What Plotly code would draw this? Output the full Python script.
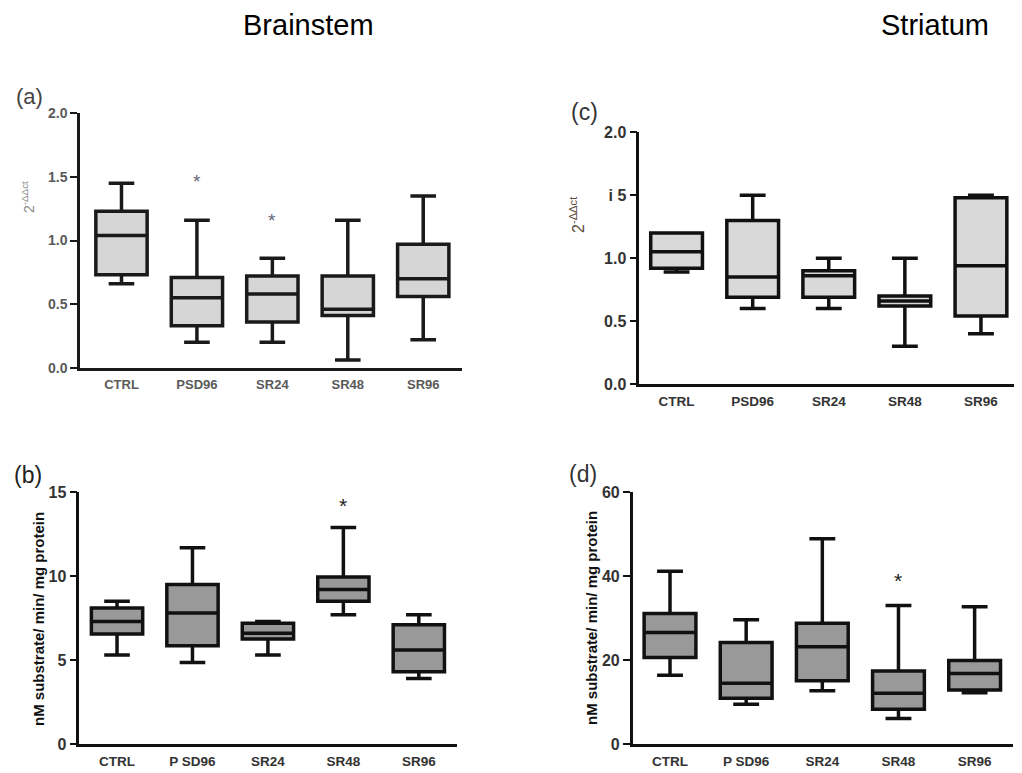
import plotly.graph_objects as go

# ---------------- data ----------------
categories = ["CTRL", "PSD96", "SR24", "SR48", "SR96"]
labels_bd = ["CTRL", "P SD96", "SR24", "SR48", "SR96"]

# (a) Brainstem, 2^-ΔΔct
a_max = [1.45, 1.16, 0.86, 1.16, 1.35]
a_q3 = [1.23, 0.71, 0.72, 0.72, 0.97]
a_med = [1.04, 0.55, 0.58, 0.46, 0.70]
a_q1 = [0.73, 0.33, 0.36, 0.41, 0.56]
a_min = [0.66, 0.20, 0.20, 0.06, 0.22]
a_star_x = ["PSD96", "SR24"]
a_star_y = [1.46, 1.16]

# (b) Brainstem, activity
b_max = [8.5, 11.7, 7.3, 12.9, 7.7]
b_q3 = [8.1, 9.5, 7.2, 9.95, 7.1]
b_med = [7.3, 7.8, 6.6, 9.2, 5.6]
b_q1 = [6.55, 5.85, 6.25, 8.5, 4.3]
b_min = [5.3, 4.85, 5.3, 7.7, 3.9]
b_star_x = ["SR48"]
b_star_y = [14.2]

# (c) Striatum, 2^-ΔΔct
c_max = [1.20, 1.50, 1.00, 1.00, 1.50]
c_q3 = [1.20, 1.30, 0.90, 0.70, 1.48]
c_med = [1.05, 0.85, 0.86, 0.66, 0.94]
c_q1 = [0.92, 0.69, 0.69, 0.62, 0.54]
c_min = [0.89, 0.60, 0.60, 0.30, 0.40]
c_ticks = [0.0, 0.5, 1.0, 1.5, 2.0]
c_ticktext = ["0.0", "0.5", "1.0", "i 5", "2.0"]

# (d) Striatum, activity
d_max = [41.2, 29.6, 48.9, 33.0, 32.7]
d_q3 = [31.1, 24.2, 28.8, 17.4, 19.9]
d_med = [26.6, 14.5, 23.2, 12.1, 16.8]
d_q1 = [20.6, 10.9, 15.1, 8.3, 12.9]
d_min = [16.4, 9.5, 12.7, 6.1, 12.2]
d_star_x = ["SR48"]
d_star_y = [39.0]

# ---------------- layout helpers ----------------
# page body has an 8px margin, so the figure starts at (8, 8) in the window
OFF = 8
W, H = 1022 - OFF, 773 - OFF
FONT = "Liberation Sans, Arial, sans-serif"


def px_x(p):
    return (p - OFF) / W


def px_y(p):
    return 1 - (p - OFF) / H


fig = go.Figure()

panels = [
    dict(ax="x", ay="y", st=(a_min, a_q1, a_med, a_q3, a_max), fill="#d6d6d6",
         xs=(80, 461.7), ys=(113.3, 367.7), xr=[-0.55, 4.51], yr=[0, 2.0],
         star=(a_star_x, a_star_y), starcol="#667", starsize=19, lc="#1a1a1a"),
    dict(ax="x2", ay="y2", st=(b_min, b_q1, b_med, b_q3, b_max), fill="#999999",
         xs=(79.3, 457.3), ys=(492.3, 744), xr=[-0.5, 4.51], yr=[0, 15],
         star=(b_star_x, b_star_y), starcol="#222", starsize=21, lc="#111"),
    dict(ax="x3", ay="y3", st=(c_min, c_q1, c_med, c_q3, c_max), fill="#d9d9d9",
         xs=(639.3, 1019), ys=(132.3, 384), xr=[-0.49, 4.5], yr=[0, 2.0],
         star=None, lc="#111"),
    dict(ax="x4", ay="y4", st=(d_min, d_q1, d_med, d_q3, d_max), fill="#999999",
         xs=(632.7, 1012.7), ys=(492.3, 744), xr=[-0.49, 4.5], yr=[0, 60],
         star=(d_star_x, d_star_y), starcol="#222", starsize=21, lc="#111"),
]

ann = []

for p in panels:
    mn, q1, med, q3, mx = p["st"]
    fig.add_trace(go.Box(
        x=categories, lowerfence=mn, q1=q1, median=med, q3=q3, upperfence=mx,
        xaxis=p["ax"], yaxis=p["ay"], fillcolor=p["fill"],
        line=dict(color=p["lc"], width=3.5), width=0.68, whiskerwidth=0.5,
        boxpoints=False, hoverinfo="skip", showlegend=False))
    if p["star"]:
        sx, sy = p["star"]
        for xv, yv in zip(sx, sy):
            ann.append(dict(text="*", x=xv, y=yv, xref=p["ax"], yref=p["ay"],
                            showarrow=False, xanchor="center", yanchor="middle",
                            font=dict(family=FONT, size=p["starsize"], color=p["starcol"])))

layout = dict(width=W, height=H, margin=dict(l=0, r=0, t=0, b=0, autoexpand=False),
              paper_bgcolor="white", plot_bgcolor="white", showlegend=False)

for i, p in enumerate(panels):
    sfx = "" if i == 0 else str(i + 1)
    grey_a = i == 0
    tickcol = "#5a5a5a" if grey_a else "#333333"
    xfont = dict(family=FONT, size=13 if grey_a else 13.5, color=tickcol, weight="bold")
    yfont = dict(family=FONT, size=14 if grey_a else 16, color=tickcol, weight="bold")
    xa = dict(domain=[px_x(p["xs"][0]), px_x(p["xs"][1])], range=p["xr"],
              anchor="y" + sfx, showline=True, linecolor=p["lc"], linewidth=2.5,
              ticks="", showgrid=False, zeroline=False, tickfont=xfont,
              ticklabelstandoff=3, type="category", automargin=False)
    if i in (1, 3):
        xa.update(tickmode="array", tickvals=categories, ticktext=labels_bd)
    ya = dict(domain=[px_y(p["ys"][1]), px_y(p["ys"][0])], range=p["yr"],
              anchor="x" + sfx, showline=True, linecolor=p["lc"], linewidth=2.5,
              ticks="outside", ticklen=7, tickwidth=2, tickcolor=p["lc"],
              showgrid=False, zeroline=False, tickfont=yfont, automargin=False)
    if i == 0:
        ya.update(dtick=0.5, tickformat=".1f")
    elif i == 2:
        ya.update(tickmode="array", tickvals=c_ticks, ticktext=c_ticktext)
    elif i == 1:
        ya.update(dtick=5)
    else:
        ya.update(dtick=20)
    layout["xaxis" + sfx] = xa
    layout["yaxis" + sfx] = ya

fig.update_layout(**layout)


def add_text(text, x, y, size, color="#000", bold=False, angle=0):
    ann.append(dict(text=text, x=px_x(x), y=px_y(y), xref="paper", yref="paper",
                    showarrow=False, textangle=angle, xanchor="center", yanchor="middle",
                    font=dict(family=FONT, size=size, color=color,
                              weight="bold" if bold else "normal")))


add_text("Brainstem", 308, 25, 29)
add_text("Striatum", 935, 25, 29)
add_text("(a)", 29, 96, 22, color="#444")
add_text("(b)", 28, 475, 23, color="#222")
add_text("(c)", 584, 112, 23, color="#333")
add_text("(d)", 583, 474, 23, color="#333")
add_text("2<sup>-ΔΔct</sup>", 28, 197, 14, color="#888", angle=-90)
add_text("2<sup>-ΔΔct</sup>", 577, 215, 16, color="#5b4b3b", angle=-90)
add_text("nM substrate/ min/ mg protein", 38, 619, 15, color="#111", bold=True, angle=-90)
add_text("nM substrate/ min/ mg protein", 591, 618, 15, color="#111", bold=True, angle=-90)

fig.update_layout(annotations=ann)
fig.write_html("out.html")
